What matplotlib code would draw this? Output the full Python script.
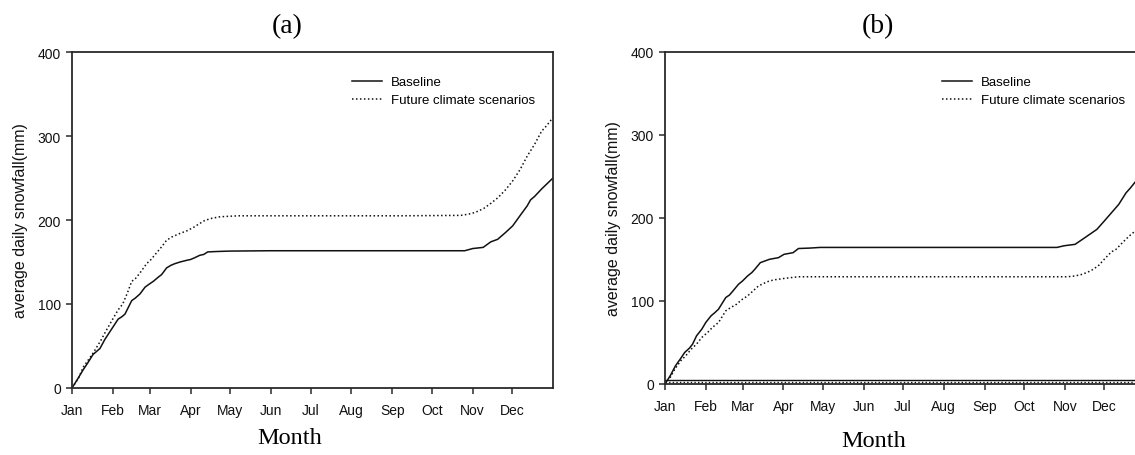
import matplotlib
matplotlib.use("Agg")
import matplotlib.pyplot as plt

# ---------------- data ----------------
month_labels = ["Jan", "Feb", "Mar", "Apr", "May", "Jun", "Jul", "Aug", "Sep", "Oct", "Nov", "Dec"]
month_starts = [0, 31, 59, 90, 120, 151, 181, 212, 243, 273, 304, 334]
y_ticks = [0, 100, 200, 300, 400]

a_base_day = [0, 4, 8.6, 12, 16, 19, 21.2, 25, 30, 35, 38, 40.2, 45.3, 48, 51.6, 55.4, 58, 61.7,
              65.5, 68, 71.8, 75, 78, 82, 87, 90, 93, 97, 100, 103, 110, 120, 150, 200, 250,
              298, 304, 312, 317.8, 323, 328.9, 334.4, 339.9, 345.4, 348, 351, 356.4, 365]
a_base_val = [0, 10, 22, 30, 40, 44, 47, 58, 70, 82, 85, 88, 104, 107, 112, 120, 123, 127,
              132, 135, 143, 146, 148, 150, 152, 153, 155, 158, 159, 162, 162.5, 163, 163.4, 163.4, 163.4,
              163.4, 166, 167.4, 174, 177, 185, 193, 205, 216.8, 224, 228, 237, 250]

a_fut_day = [0, 5, 8.6, 16.2, 22, 25.8, 30.9, 35, 38.5, 42, 45.3, 48, 51.6, 56.6, 60, 64.2, 68,
             71.8, 76, 81.9, 87, 92, 96, 100.8, 106, 112.2, 120, 127, 180, 250, 295, 301, 306,
             312.3, 318, 323.3, 329, 334.4, 340, 345.4, 351, 356.4, 360, 365]
a_fut_val = [0, 12, 25, 42, 57, 68, 82, 93, 100, 113, 127, 130, 137, 148, 153, 161, 168,
             176, 180, 184, 187, 191, 195, 199.5, 202, 203.8, 204.5, 205, 205, 205, 205.5, 207, 209,
             213.6, 220, 226.7, 236, 246.5, 260, 276, 290, 305.8, 312, 322]

b_base_day = [0, 4, 8, 11.6, 15, 18.5, 21, 24, 28, 31, 35, 38, 40.7, 46.2, 49, 51.7, 55.9, 59,
              62.8, 66, 68.3, 72.5, 76, 79.4, 86.3, 90.5, 94, 97.4, 101.5, 110, 118, 200, 298,
              303.5, 311.8, 317.4, 322.9, 328.4, 334, 339.5, 345, 350.6, 354, 358.3, 365]
b_base_val = [0, 10, 22, 30, 38, 43, 48, 58, 66, 74, 82, 86, 90, 104, 107, 112, 120, 124,
              130, 134, 138, 146, 148, 150, 152, 156, 157, 158, 163, 163.5, 164.3, 164.3, 164.3,
              166.3, 168, 174, 180, 186, 196, 206, 216, 230, 236, 244.5, 256]

b_fut_day = [0, 4, 7.5, 12, 15.8, 20, 24, 28, 32.4, 36, 40.7, 46.2, 50, 54.5, 58, 62.8, 67, 71.1,
             75, 79.4, 84, 90.5, 101.5, 200, 306, 312, 317.4, 322, 325.7, 330, 334, 339.5, 343,
             347.8, 353, 358.3, 365]
b_fut_val = [0, 8, 18, 28, 34, 42, 48, 56, 62, 68, 74, 88, 92, 96, 101, 106, 112, 118,
             121, 124, 125.5, 127, 129, 129, 129, 130, 132, 135, 138, 143, 150, 159, 162,
             170, 178, 185, 193]

b_low_day = [0, 365]
b_low_base_val = [4.5, 4.5]
b_low_fut_val = [2, 2]

legend_labels = ["Baseline", "Future climate scenarios"]
panel_titles = ["(a)", "(b)"]
x_title = "Month"
y_title = "average daily snowfall(mm)"

# ---------------- style ----------------
W, H = 1135, 456
fig = plt.figure(figsize=(W / 100, H / 100), dpi=100)
sans = ["Liberation Sans", "DejaVu Sans"]
serif = ["Liberation Serif", "DejaVu Serif"]
spine_c = "#2a2a2a"
dot_style = (0, (1, 1.6))


def px_rect(l, r, t, b):
    return [l / W, 1 - b / H, (r - l) / W, (b - t) / H]


def style_axes(ax):
    ax.set_xlim(0, 365)
    ax.set_ylim(0, 400)
    ax.set_xticks(month_starts)
    ax.set_xticklabels(month_labels, fontfamily=sans, fontsize=10)
    ax.set_yticks(y_ticks)
    ax.set_yticklabels([str(v) for v in y_ticks], fontfamily=sans, fontsize=10)
    ax.tick_params(axis="x", direction="out", length=4, width=1.1, pad=7, colors=spine_c,
                   labelcolor="#111")
    ax.tick_params(axis="y", direction="out", length=4, width=1.1, pad=4, colors=spine_c,
                   labelcolor="#111")
    for s in ax.spines.values():
        s.set_color(spine_c)
        s.set_linewidth(1.3)
    ax.set_ylabel(y_title, fontfamily=sans, fontsize=11.5, color="#111", labelpad=7)


leg_kw = dict(loc="upper left", bbox_transform=fig.transFigure, frameon=False,
              prop={"family": sans, "size": 9.5}, handlelength=2.3, handletextpad=0.65,
              labelspacing=0.45, borderpad=0, borderaxespad=0)

# panel (a)
ax1 = fig.add_axes(px_rect(72, 553, 53, 389))
ax1.plot(a_base_day, a_base_val, color="#111", lw=1.1, ls="-", label=legend_labels[0])
ax1.plot(a_fut_day, a_fut_val, color="#111", lw=1.1, ls=dot_style, label=legend_labels[1])
style_axes(ax1)
ax1.legend(bbox_to_anchor=(352 / W, 1 - 77 / H), **leg_kw)

# panel (b)
ax2 = fig.add_axes(px_rect(665, 1145, 52.5, 385))
ax2.plot(b_base_day, b_base_val, color="#111", lw=1.1, ls="-", label=legend_labels[0])
ax2.plot(b_fut_day, b_fut_val, color="#111", lw=1.1, ls=dot_style, label=legend_labels[1])
ax2.plot(b_low_day, b_low_base_val, color="#111", lw=1.0, ls="-")
ax2.plot(b_low_day, b_low_fut_val, color="#111", lw=1.0, ls=dot_style)
style_axes(ax2)
h, l = ax2.get_legend_handles_labels()
ax2.legend(h[:2], l[:2], bbox_to_anchor=(942 / W, 1 - 77 / H), **leg_kw)

# titles and x labels
fig.text(287 / W, 1 - 27 / H, panel_titles[0], ha="center", va="center", fontfamily=serif, fontsize=20)
fig.text(878 / W, 1 - 27 / H, panel_titles[1], ha="center", va="center", fontfamily=serif, fontsize=20)
fig.text(290 / W, 1 - 439 / H, x_title, ha="center", va="center", fontfamily=serif, fontsize=17.5)
fig.text(874 / W, 1 - 442 / H, x_title, ha="center", va="center", fontfamily=serif, fontsize=17.5)

fig.savefig("out.png", dpi=100)
